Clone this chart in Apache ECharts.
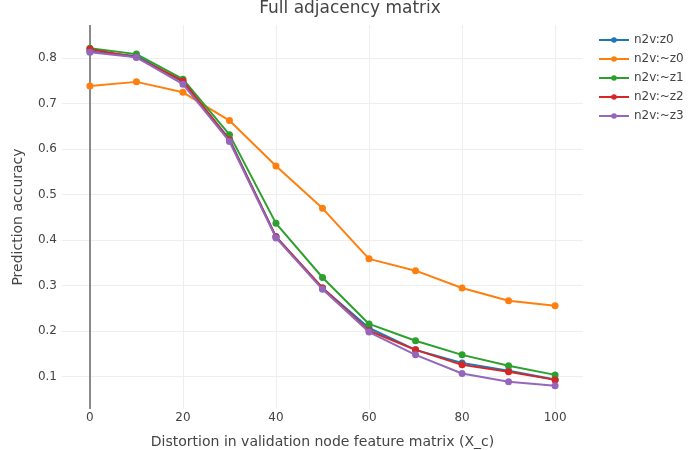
<!DOCTYPE html>
<html>
<head>
<meta charset="utf-8">
<script src="https://cdn.jsdelivr.net/npm/echarts@6/dist/echarts.min.js"></script>
<style>
  html, body { margin: 0; padding: 0; background: #fff; }
  #chart { width: 700px; height: 450px; }
</style>
</head>
<body>
<div id="chart"></div>
<script>
// distortion levels (x)
const distortion = [0, 10, 20, 30, 40, 50, 60, 70, 80, 90, 100];

const seriesNames = ['n2v:z0', 'n2v:~z0', 'n2v:~z1', 'n2v:~z2', 'n2v:~z3'];
const z0  = [0.815, 0.805, 0.748, 0.622, 0.408, 0.295, 0.207, 0.159, 0.130, 0.113, 0.094];
const nz0 = [0.739, 0.748, 0.725, 0.663, 0.563, 0.470, 0.359, 0.333, 0.295, 0.267, 0.256];
const nz1 = [0.822, 0.809, 0.754, 0.632, 0.437, 0.318, 0.216, 0.179, 0.148, 0.124, 0.104];
const nz2 = [0.820, 0.802, 0.750, 0.620, 0.407, 0.295, 0.201, 0.159, 0.126, 0.111, 0.093];
const nz3 = [0.813, 0.802, 0.743, 0.617, 0.405, 0.292, 0.198, 0.148, 0.107, 0.089, 0.080];
const colors = ['#1f77b4', '#ff7f0e', '#2ca02c', '#d62728', '#9467bd'];

const FONT = '"DejaVu Sans", Verdana, sans-serif';
const chart = echarts.init(document.getElementById('chart'), null, { renderer: 'canvas' });

const allValues = [z0, nz0, nz1, nz2, nz3];
const series = allValues.map((vals, i) => ({
  name: seriesNames[i],
  type: 'line',
  data: distortion.map((x, j) => [x, vals[j]]),
  symbol: 'circle',
  symbolSize: 7,
  lineStyle: { width: 2, color: colors[i] },
  itemStyle: { color: colors[i] },
  z: 3 + i,
}));

// zero line at x = 0
series[0].markLine = {
  silent: true,
  symbol: 'none',
  label: { show: false },
  lineStyle: { color: '#666', width: 1.5, type: 'solid' },
  data: [{ xAxis: 0 }],
  z: 1,
};

chart.setOption({
  backgroundColor: '#fff',
  animation: false,
  color: colors,
  textStyle: { fontFamily: FONT },
  title: {
    text: 'Full adjacency matrix',
    left: 'center',
    top: -5,
    textStyle: { fontFamily: FONT, fontSize: 17, fontWeight: 'normal', color: '#444' },
  },
  legend: {
    orient: 'vertical',
    left: 593,
    top: 29,
    itemWidth: 30,
    itemHeight: 7,
    itemGap: 7,
    textStyle: { fontFamily: FONT, fontSize: 12, color: '#444' },
    data: seriesNames,
  },
  grid: { left: 62, right: 117, top: 25, bottom: 41, containLabel: false, outerBoundsMode: 'none' },
  xAxis: {
    type: 'value',
    min: -6,
    max: 106,
    splitNumber: 5,
    name: 'Distortion in validation node feature matrix (X_c)',
    nameLocation: 'middle',
    nameGap: 26,
    nameTextStyle: { fontFamily: FONT, fontSize: 14, color: '#444' },
    axisLine: { show: false },
    axisTick: { show: false },
    axisLabel: { showMinLabel: false, showMaxLabel: false, color: '#444', fontSize: 12, margin: 3 },
    splitLine: { show: true, showMinLine: false, showMaxLine: false, lineStyle: { color: '#eee', width: 1 } },
  },
  yAxis: {
    type: 'value',
    min: 0.029,
    max: 0.873,
    splitNumber: 8,
    name: 'Prediction accuracy',
    nameLocation: 'middle',
    nameGap: 37,
    nameTextStyle: { fontFamily: FONT, fontSize: 14, color: '#444' },
    axisLine: { show: false },
    axisTick: { show: false },
    axisLabel: { showMinLabel: false, showMaxLabel: false, color: '#444', fontSize: 12, margin: 5 },
    splitLine: { show: true, showMinLine: false, showMaxLine: false, lineStyle: { color: '#eee', width: 1 } },
  },
  series,
});
</script>
</body>
</html>
